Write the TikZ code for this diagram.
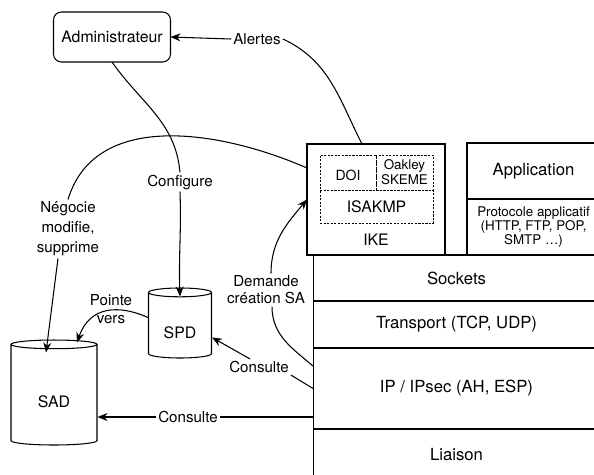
\documentclass[tikz,border=0pt]{standalone}
\usepackage{fontspec}
\setmainfont{TeX Gyre Heros}
\usetikzlibrary{arrows.meta, positioning, shapes.geometric}

\begin{document}
\begin{tikzpicture}[x=0.02cm, y=-0.02cm, line width=0.6pt, font=\fontsize{9}{11}\selectfont,
    >={Stealth[length=2mm,width=1.6mm]}]
    \tikzstyle{box}=[draw, rectangle, inner sep=1pt, outer sep=0pt]
    \tikzstyle{layer}=[box, minimum width=5.74cm, font=\fontsize{9.5}{11}\selectfont]
    \tikzstyle{subbox}=[draw, dash pattern=on 1.2pt off 0.8pt, line width=0.5pt, inner sep=0pt, outer sep=0pt]
    \tikzstyle{database}=[draw, cylinder, shape border rotate=90, aspect=0.27, anchor=shape center, inner sep=0pt]
    \tikzstyle{annot}=[inner sep=1pt, align=center, font=\fontsize{8.6}{10}\selectfont]

    \useasboundingbox (0,0) rectangle (594,474);

    % Administrator
    \node[box, rounded corners=4.5pt, minimum width=2.34cm, minimum height=1cm] (admin) at (112,37) {Administrateur};

    % IKE block and its inner parts
    \node[box, minimum width=2.76cm, minimum height=2.22cm] (ike) at (376,199.5) {};
    \node[subbox, minimum width=1.12cm, minimum height=0.7cm, font=\fontsize{8}{9}\selectfont] (doi) at (348,172.5) {\rule{0pt}{9pt}DOI};
    \node[subbox, minimum width=1.14cm, minimum height=0.7cm, right=0pt of doi, align=center,
          font=\fontsize{7.6}{8.6}\selectfont] (oak) {Oakley\\SKEME};
    \node[subbox, minimum width=2.26cm, minimum height=0.66cm, below=0pt of doi.south west, anchor=north west] (isakmp) {ISAKMP};
    \node (ikelbl) at (376,240) {IKE};

    % Application block
    \node[box, minimum width=2.66cm, minimum height=1.12cm, font=\fontsize{9.5}{11}\selectfont] (app) at (533.5,171) {Application};
    \node[box, minimum width=2.66cm, minimum height=1.12cm, below=0pt of app, align=center,
          font=\fontsize{7.6}{8}\selectfont] (proto) {Protocole applicatif\\(HTTP, FTP, POP,\\SMTP \ldots)};

    % Draw the protocol stack
    \node[layer, minimum height=0.92cm] (sock) at (456.5,278) {Sockets};
    \node[layer, minimum height=0.94cm, below=0pt of sock] (tran) {Transport (TCP, UDP)};
    \node[layer, minimum height=1.62cm, below=0pt of tran] (ip) {IP / IPsec (AH, ESP)};
    \node[layer, minimum height=1.02cm, below=0pt of ip] (link) {Liaison};

    % Databases (the rule pushes the name below the lid)
    \node[database, minimum width=1.26cm, minimum height=1.4cm] (spd) at (180,323) {\rule{0pt}{14.5pt}SPD};
    \node[database, minimum width=1.72cm, minimum height=2.1cm] (sad) at (54,392.5) {\rule{0pt}{14pt}SAD};

    % Annotations on the links
    \node[annot] (alertes) at (257,39) {Alertes};
    \node[annot] (configure) at (180,182) {Configure};
    \node[annot, font=\fontsize{8.6}{11.4}\selectfont] (negocie) at (68,229) {Négocie\\modifie,\\supprime};
    \node[annot, font=\fontsize{8.6}{10.2}\selectfont] (pointe) at (111,309) {Pointe\\vers};
    \node[annot, font=\fontsize{8.6}{9.8}\selectfont] (demande) at (266,290) {Demande\\création SA};
    \node[annot] (consulte1) at (259,367) {Consulte};
    \node[annot] (consulte2) at (188,417) {Consulte};

    % IKE -> administrator
    \draw (alertes.east) to[out=-25, in=117] ([xshift=-0.28cm]ike.north);
    \draw[->] (alertes.west) -- (admin.east);

    % administrator -> SPD
    \draw (admin.south) to[out=-55, in=95] (configure.north);
    \draw[->] (configure.south) to[out=-88, in=92] ([yshift=-0.18cm]spd.north);

    % IKE -> SAD
    \draw ([yshift=0.63cm]ike.west) .. controls (220,130) and (95,110) .. (negocie.north);
    \draw[->] ([xshift=-0.2cm]negocie.south) -- ([xshift=-0.16cm,yshift=-0.26cm]sad.north);

    % SPD -> SAD
    \draw[->] ([yshift=0.16cm]spd.west) .. controls (120,305) and (90,305) .. ([xshift=0.46cm,yshift=-0.06cm]sad.north);

    % IP layer asks IKE
    \draw ([yshift=0.45cm]ip.west) to[out=140, in=-90] ([xshift=0.12cm]demande.south);
    \draw[->] ([xshift=0.1cm]demande.north) to[out=90, in=-130] (ike.west);

    % IP layer reads the databases
    \draw (ip.west) -- (consulte1.south east);
    \draw[->] ([xshift=-0.18cm]consulte1.north) -- ([yshift=-0.24cm]spd.east);
    \draw (ip.west |- consulte2.east) -- (consulte2.east);
    \draw[->] (consulte2.west) -- (sad.east |- consulte2.west);

\end{tikzpicture}
\end{document}
